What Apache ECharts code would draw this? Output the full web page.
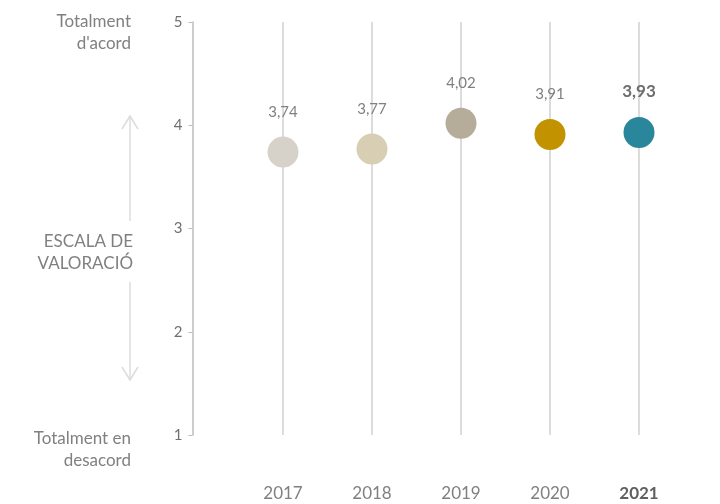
<!DOCTYPE html>
<html>
<head>
<meta charset="utf-8">
<script src="https://cdn.jsdelivr.net/npm/echarts@6/dist/echarts.min.js"></script>
<style>
  html, body { margin: 0; padding: 0; background: #fff; }
  #chart { width: 720px; height: 504px; }
</style>
</head>
<body>
<div id="chart"></div>
<script>
// ---- Data ----
const years = ["2017", "2018", "2019", "2020", "2021"];
const scores = [3.74, 3.77, 4.02, 3.91, 3.93];
const dotColors = ["#d6d2c9", "#d8ceb3", "#b5ad9a", "#c29200", "#2a869a"];
const yTicks = [1, 2, 3, 4, 5];
const highlightYear = "2021";

// ---- Styles ----
const FONT = "Lato, 'Noto Sans', sans-serif";
const GREY = "#808080";

const chart = echarts.init(document.getElementById("chart"));

const pointData = scores.map((v, i) => ({
  value: v,
  itemStyle: { color: dotColors[i], opacity: 1 },
  label: years[i] === highlightYear
    ? { fontWeight: "bold", fontSize: 17, color: "#6e6e6e" }
    : {}
}));

function sideText(x, y, text) {
  return {
    type: "text", x: x, y: y,
    style: { text: text, align: "right", verticalAlign: "top", fontFamily: FONT, fontSize: 17, lineHeight: 22, fill: GREY }
  };
}

chart.setOption({
  animation: false,
  grid: { left: 238.5, right: 36.5, top: 22, bottom: 69 },
  xAxis: {
    type: "category",
    data: years,
    axisLine: { show: false },
    axisTick: { show: false },
    axisLabel: {
      margin: 50,
      fontFamily: FONT,
      fontSize: 17,
      color: GREY,
      formatter: v => v === highlightYear ? "{b|" + v + "}" : v,
      rich: { b: { fontFamily: FONT, fontSize: 17, fontWeight: "bold", color: "#606060" } }
    }
  },
  yAxis: {
    type: "value",
    min: yTicks[0],
    max: yTicks[yTicks.length - 1],
    interval: 1,
    offset: 46,
    axisLine: { show: true, lineStyle: { color: "#bdbdbd", width: 1.5 } },
    axisTick: { show: true, length: 4, lineStyle: { color: "#bdbdbd" } },
    splitLine: { show: false },
    axisLabel: { margin: 10, fontFamily: FONT, fontSize: 15, color: "#707070" }
  },
  series: [{
    type: "scatter",
    data: pointData,
    symbolSize: 31,
    z: 5,
    label: {
      show: true,
      position: "top",
      distance: 17,
      fontFamily: FONT,
      fontSize: 15,
      color: GREY,
      formatter: p => p.value.toFixed(2).replace(".", ",")
    },
    markLine: {
      silent: true,
      symbol: "none",
      label: { show: false },
      z: 1,
      lineStyle: { color: "#dcdcdc", width: 2, type: "solid" },
      data: years.map(y => ({ xAxis: y }))
    }
  }],
  graphic: [
    sideText(131, 11, "Totalment\nd'acord"),
    sideText(133, 231, "ESCALA DE\nVALORACIÓ"),
    sideText(131, 428, "Totalment en\ndesacord"),
    { type: "polyline", shape: { points: [[130, 116], [130, 221]] }, style: { stroke: "#dcdcdc", lineWidth: 1.5, fill: null } },
    { type: "polyline", shape: { points: [[122, 129], [130, 116], [138, 129]] }, style: { stroke: "#dcdcdc", lineWidth: 1.5, fill: null } },
    { type: "polyline", shape: { points: [[130, 282], [130, 380]] }, style: { stroke: "#dcdcdc", lineWidth: 1.5, fill: null } },
    { type: "polyline", shape: { points: [[122, 367], [130, 380], [138, 367]] }, style: { stroke: "#dcdcdc", lineWidth: 1.5, fill: null } }
  ]
});
</script>
</body>
</html>
